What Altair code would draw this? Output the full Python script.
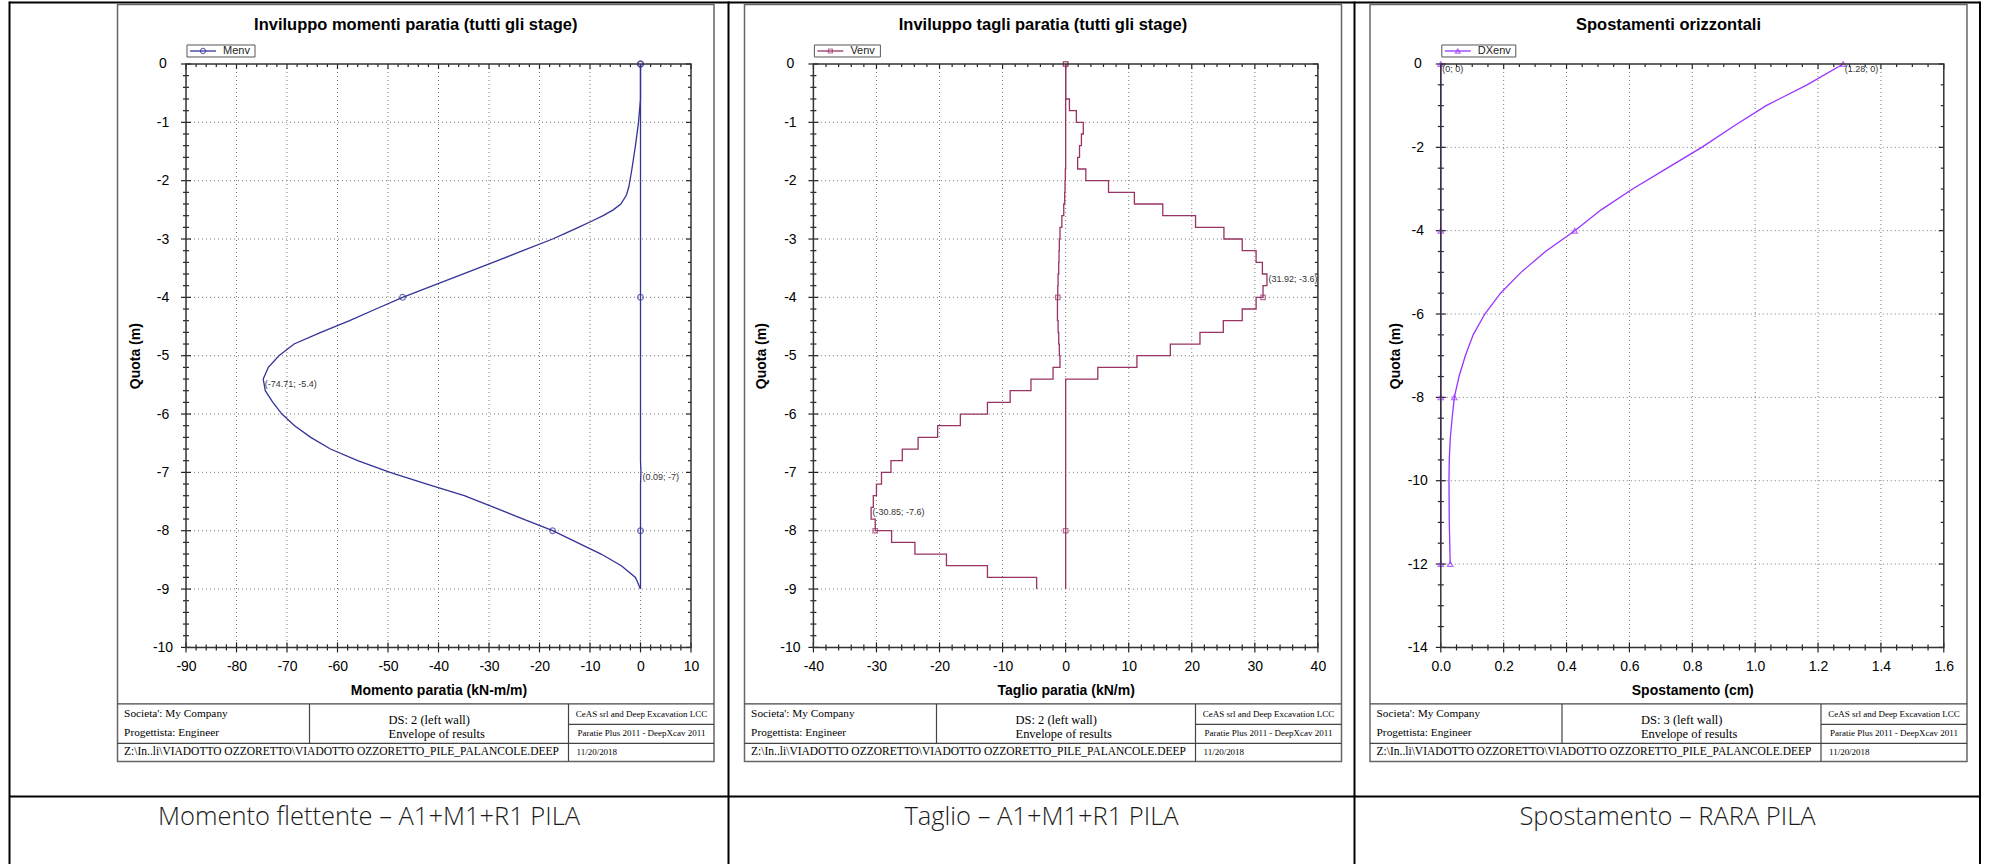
import altair as alt
import pandas as pd

# ---------------------------------------------------------------- values
# Bending-moment envelope (kN-m/m) against elevation (m)
MOM_DEPTH = [0, -0.2, -0.4, -0.6, -0.7, -1.0, -1.4, -1.8, -2.1, -2.25, -2.4, -2.5, -2.6, -2.7, -2.8, -2.9,
             -3.0, -3.2, -3.4, -3.6, -3.8, -4.0, -4.2, -4.4, -4.6, -4.8, -5.0, -5.2, -5.4, -5.6, -5.8,
             -6.0, -6.2, -6.4, -6.6, -6.8, -7.0, -7.2, -7.4, -7.6, -7.8, -8.0, -8.2, -8.4, -8.6, -8.8, -9.0]
MOM_MIN = [0, 0, 0, 0, -0.1, -0.4, -1.0, -1.7, -2.3, -2.8, -3.9, -5.4, -7.4, -9.8, -12.3, -14.8,
           -17.4, -23.3, -29.2, -35.2, -41.1, -47.1, -52.4, -57.6, -63.3, -68.6, -71.6, -73.7, -74.71, -74.3, -72.8,
           -71.0, -68.5, -65.3, -61.4, -56.0, -49.6, -42.3, -34.9, -29.0, -23.2, -17.4, -12.6, -7.8, -3.8, -1.0, 0]
MOM_MAX_DEPTH = [0, -6.8, -7.0, -7.2, -9.0]
MOM_MAX = [0, 0, 0.09, 0, 0]
MOM_MARK_DEPTH = [0, -4, -8]
MOM_MARK_MIN = [0, -47.1, -17.4]
MOM_MARK_MAX = [0, 0, 0]
MOM_NOTE_TEXT = ["(-74.71; -5.4)", "(0.09; -7)"]
MOM_NOTE_X = [-74.71, 0.09]
MOM_NOTE_Y = [-5.4, -7]

# Shear envelope (kN/m), one constant value per 0.2 m element (element tops listed)
SHEAR_TOP = [0, -0.2, -0.4, -0.6, -0.8, -1.0, -1.2, -1.4, -1.6, -1.8, -2.0, -2.2, -2.4, -2.6, -2.8,
             -3.0, -3.2, -3.4, -3.6, -3.8, -4.0, -4.2, -4.4, -4.6, -4.8, -5.0, -5.2, -5.4, -5.6, -5.8,
             -6.0, -6.2, -6.4, -6.6, -6.8, -7.0, -7.2, -7.4, -7.6, -7.8, -8.0, -8.2, -8.4, -8.6, -8.8]
SHEAR_MAX = [0, 0, 0, 0.6, 1.7, 2.8, 2.5, 2.2, 1.9, 3.2,
             6.8, 10.9, 15.4, 20.6, 25.1, 28.0, 30.2, 31.2, 31.92, 31.3,
             30.2, 28.0, 25.0, 21.3, 16.6, 11.3, 5.1,
             0, 0, 0, 0, 0, 0, 0, 0, 0, 0, 0, 0, 0, 0, 0, 0, 0, 0]
SHEAR_MIN = [0, 0, 0, 0, 0, 0, 0, 0, 0,
             -0.05, -0.1, -0.15, -0.3, -0.6, -0.9, -1.0, -1.05, -1.1, -1.2, -1.25,
             -1.3, -1.3, -1.2, -1.1, -1.0, -0.9, -2.0, -5.5, -8.8, -12.4,
             -16.7, -20.3, -23.4, -25.9, -27.7, -29.2, -30.0, -30.5, -30.85, -30.2,
             -27.6, -23.9, -18.9, -12.4, -4.6]
SHEAR_MARK_DEPTH = [0, -4, -8]
SHEAR_NOTE_TEXT = ["(31.92; -3.6)", "(-30.85; -7.6)"]
SHEAR_NOTE_X = [31.92, -30.85]
SHEAR_NOTE_Y = [-3.6, -7.6]

# Horizontal displacement envelope (cm)
DISP_DEPTH = [0, -0.5, -1, -1.5, -2, -2.5, -3, -3.5, -4, -4.5, -5, -5.5, -6, -6.5, -7, -7.5,
              -8, -8.5, -9, -9.5, -10, -11, -12]
DISP_MAX = [1.28, 1.165, 1.035, 0.93, 0.83, 0.72, 0.61, 0.51, 0.426, 0.333, 0.255, 0.19, 0.14, 0.103,
            0.078, 0.058, 0.043, 0.036, 0.030, 0.027, 0.026, 0.027, 0.03]
DISP_MIN_DEPTH = [0, -12]
DISP_MIN = [0, 0]
DISP_MARK_DEPTH = [0, -4, -8, -12]
DISP_MARK_MAX = [1.28, 0.426, 0.043, 0.03]
DISP_MARK_MIN = [0, 0, 0, 0]
DISP_NOTE_TEXT = ["(0; 0)", "(1.28; 0)"]
DISP_NOTE_X = [0, 1.28]
DISP_NOTE_Y = [0, 0]

# Axis tick labels
MOM_X_TICKS = [-90, -80, -70, -60, -50, -40, -30, -20, -10, 0, 10]
SHEAR_X_TICKS = [-40, -30, -20, -10, 0, 10, 20, 30, 40]
DISP_X_TICKS = [0.0, 0.2, 0.4, 0.6, 0.8, 1.0, 1.2, 1.4, 1.6]
Y_TICKS_10 = [-10, -9, -8, -7, -6, -5, -4, -3, -2, -1, 0]
Y_TICKS_14 = [-14, -12, -10, -8, -6, -4, -2, 0]

# ---------------------------------------------------------------- frames
def line_frame(depths, values, name):
    return pd.DataFrame({"d": depths, "v": values, "s": name, "i": list(range(len(depths)))})


def step_frame(tops, values, name, h=0.2):
    d, v = [], []
    for t, val in zip(tops, values):
        d += [t, round(t - h, 2)]
        v += [val, val]
    return line_frame(d, v, name)


def node_value(tops, values, depth, h=0.2):
    n = int(round(-depth / h))
    return values[n - 1] if n > 0 else values[0]


mom_lines = pd.concat([line_frame(MOM_DEPTH, MOM_MIN, "min"), line_frame(MOM_MAX_DEPTH, MOM_MAX, "max")])
mom_marks = pd.DataFrame({"d": MOM_MARK_DEPTH * 2, "v": MOM_MARK_MIN + MOM_MARK_MAX})
mom_notes = pd.DataFrame({"t": MOM_NOTE_TEXT, "v": MOM_NOTE_X, "d": MOM_NOTE_Y})

shear_lines = pd.concat([step_frame(SHEAR_TOP, SHEAR_MAX, "max"), step_frame(SHEAR_TOP, SHEAR_MIN, "min")])
shear_marks = pd.DataFrame({
    "d": SHEAR_MARK_DEPTH * 2,
    "v": [node_value(SHEAR_TOP, SHEAR_MAX, d) for d in SHEAR_MARK_DEPTH]
         + [node_value(SHEAR_TOP, SHEAR_MIN, d) for d in SHEAR_MARK_DEPTH],
})
shear_notes = pd.DataFrame({"t": SHEAR_NOTE_TEXT, "v": SHEAR_NOTE_X, "d": SHEAR_NOTE_Y})

disp_lines = pd.concat([line_frame(DISP_DEPTH, DISP_MAX, "max"), line_frame(DISP_MIN_DEPTH, DISP_MIN, "min")])
disp_marks = pd.DataFrame({"d": DISP_MARK_DEPTH * 2, "v": DISP_MARK_MAX + DISP_MARK_MIN})
disp_notes = pd.DataFrame({"t": DISP_NOTE_TEXT, "v": DISP_NOTE_X, "d": DISP_NOTE_Y})

# ---------------------------------------------------------------- drawing helpers
SANS = "Liberation Sans"
SERIF = "Liberation Serif"
TOP = 63.6          # page y of the plot areas' top edge
H = 583.4           # plot area height
ONE = pd.DataFrame({"k": [0]})


def rule(x, y, x2=None, y2=None, color="#000", width=1.0):
    enc = {"x": alt.value(x), "y": alt.value(y)}
    if x2 is not None:
        enc["x2"] = alt.value(x2)
    if y2 is not None:
        enc["y2"] = alt.value(y2)
    return alt.Chart(ONE).mark_rule(color=color, strokeWidth=width).encode(**enc)


def rect(x, x2, y, y2, stroke=None, width=1.0, fill="transparent", opacity=1.0):
    kw = {"fill": fill, "opacity": opacity}
    if stroke is not None:
        kw.update(stroke=stroke, strokeWidth=width)
    return alt.Chart(ONE).mark_rect(**kw).encode(
        x=alt.value(x), x2=alt.value(x2), y=alt.value(y), y2=alt.value(y2))


def label(s, x, y, size, font=SANS, weight="normal", align="left", color="#000", baseline="middle"):
    return alt.Chart(ONE).mark_text(
        font=font, fontSize=size, fontWeight=weight, align=align, baseline=baseline, color=color
    ).encode(x=alt.value(x), y=alt.value(y), text=alt.value(s))


def minors(majors, n):
    return [round(a + (b - a) * k / n, 4) for a, b in zip(majors, majors[1:]) for k in range(1, n)]


def panel(cfg):
    ox, w = cfg["ox"], cfg["w"]
    rx = lambda px: px - ox
    ry = lambda py: py - TOP

    xs = alt.Scale(domain=cfg["xdom"], nice=False, zero=False)
    ys = alt.Scale(domain=cfg["ydom"], nice=False, zero=False)
    xaxis = alt.Axis(
        orient="bottom", values=cfg["xticks"], domain=False, ticks=False, tickSize=0, grid=False,
        labelFont=SANS, labelFontSize=14, labelColor="#000", labelPadding=19.5,
        labelBaseline="middle", labelAlign="center", labelFlush=False, labelOverlap=False,
        labelExpr=cfg["xfmt"], title=cfg["xtitle"], titleFont=SANS, titleFontSize=14,
        titleFontWeight="bold", titleColor="#000", titleX=w / 2, titleY=43.5,
        titleAlign="center", titleBaseline="middle",
    )
    yaxis = alt.Axis(
        orient="left", values=cfg["yticks"], domain=False, ticks=False, tickSize=0, grid=False,
        labelFont=SANS, labelFontSize=14, labelColor="#000", labelPadding=23.5,
        labelBaseline="middle", labelAlign="center", labelFlush=False, labelOverlap=False,
        labelExpr="'' + datum.value", title="Quota (m)", titleFont=SANS, titleFontSize=14,
        titleFontWeight="bold", titleColor="#000", titleAngle=270, titleX=cfg["ytx"], titleY=H / 2,
        titleAlign="center", titleBaseline="middle",
    )
    # every layer carries the same axis definition so that they merge into one
    X = lambda f: alt.X(f, type="quantitative", scale=xs, axis=xaxis)
    Y = lambda f: alt.Y(f, type="quantitative", scale=ys, axis=yaxis)

    layers = []
    if cfg.get("anchor"):
        # fixes the page's top-left corner
        layers.append(rect(rx(0), rx(40), ry(0), ry(40), opacity=0))

    # outer table
    lx, rxp = cfg["cell"]
    if cfg.get("leftborder"):
        layers.append(rule(rx(lx), ry(1), y2=ry(864), width=2))
    layers += [
        rule(rx(rxp), ry(1), y2=ry(864), width=2),
        rule(rx(lx), ry(2), x2=rx(rxp), width=2),
        rule(rx(lx), ry(796), x2=rx(rxp), width=2),
        label(cfg["caption"], rx((lx + rxp) / 2), ry(816.7), 25.5, font="Open Sans", weight=300,
              align="center", color="#1a1a1a"),
    ]

    # report frame and footer block
    b0, b1 = cfg["box"]
    fc = "#444"
    layers += [
        rect(rx(b0), rx(b1), ry(4), ry(761), stroke="#666", width=1.5),
        rule(rx(b0), ry(703.5), x2=rx(b1), color=fc, width=1.2),
        rule(rx(b0), ry(743), x2=rx(b1), color=fc, width=1.2),
        rule(rx(b0 + 192), ry(703.5), y2=ry(743), color=fc, width=1.2),
        rule(rx(b0 + 451), ry(703.5), y2=ry(761), color=fc, width=1.2),
        rule(rx(b0 + 451), ry(724), x2=rx(b1), color=fc, width=1.2),
        label("Societa': My Company", rx(b0 + 6.6), ry(713.5), 11.3, font=SERIF),
        label("Progettista: Engineer", rx(b0 + 6.6), ry(732.5), 11.3, font=SERIF),
        label(cfg["ds"], rx(b0 + 271), ry(720), 12.5, font=SERIF),
        label("Envelope of results", rx(b0 + 271), ry(733.5), 12.5, font=SERIF),
        label("CeAS srl and Deep Excavation LCC", rx(b0 + 524), ry(713.5), 9, font=SERIF, align="center"),
        label("Paratie Plus 2011 - DeepXcav 2011", rx(b0 + 524), ry(732.5), 9, font=SERIF, align="center"),
        label("Z:\\In..li\\VIADOTTO  OZZORETTO\\VIADOTTO  OZZORETTO_PILE_PALANCOLE.DEEP",
              rx(b0 + 6.6), ry(751.7), 11.5, font=SERIF),
        label("11/20/2018", rx(b0 + 459), ry(751.7), 9, font=SERIF),
        label(cfg["title"], rx((b0 + b1) / 2), ry(25), 16.5, weight="bold", align="center"),
    ]

    # dotted grid
    gx = pd.DataFrame({"v": cfg["xticks"]})
    gy = pd.DataFrame({"v": cfg["yticks"]})
    grid = dict(color="#777", strokeDash=[1, 3], strokeWidth=1)
    layers += [
        alt.Chart(gx.iloc[1:-1]).mark_rule(**grid).encode(x=X("v")),
        alt.Chart(gy.iloc[1:-1]).mark_rule(**grid).encode(y=Y("v")),
    ]

    # major / minor tick marks on all four sides
    tick = dict(color="#222", strokeWidth=1.2)
    xmin = pd.DataFrame({"v": minors(cfg["xticks"], cfg["xsub"])})
    ymin = pd.DataFrame({"v": minors(cfg["yticks"], cfg["ysub"])})
    for df, a in ((gx, 5), (xmin, 3)):
        layers += [
            alt.Chart(df).mark_rule(**tick).encode(x=X("v"), y=alt.value(H - a), y2=alt.value(H + a)),
            alt.Chart(df).mark_rule(**tick).encode(x=X("v"), y=alt.value(0), y2=alt.value(a)),
        ]
    for df, a in ((gy, 5), (ymin, 3)):
        layers += [
            alt.Chart(df).mark_rule(**tick).encode(y=Y("v"), x=alt.value(-a), x2=alt.value(a)),
            alt.Chart(df).mark_rule(**tick).encode(y=Y("v"), x=alt.value(w - a), x2=alt.value(w)),
        ]

    # envelope curves, markers and extreme-value notes
    col = cfg["color"]
    layers += [
        alt.Chart(cfg["lines"]).mark_line(color=col, strokeWidth=1.3).encode(
            x=X("v"), y=Y("d"), detail="s:N", order="i:Q"),
        alt.Chart(cfg["marks"]).mark_point(shape=cfg["shape"], filled=False, size=cfg["msize"],
                                           color=col, strokeWidth=1.2).encode(x=X("v"), y=Y("d")),
        alt.Chart(cfg["notes"]).mark_text(font=SANS, fontSize=9, color="#333", align="left",
                                          baseline="top", dx=1.5, dy=1).encode(
            x=X("v"), y=Y("d"), text="t:N"),
    ]

    # plot frame
    layers.append(rect(0, w, 0, H, stroke="#333", width=1.5))

    # legend
    lw = cfg["legw"]
    layers += [
        rect(1, 1 + lw, -19, -7, stroke="#555", width=1, fill="#ffffff"),
        rule(4, -13, x2=30, color=col, width=1.3),
        alt.Chart(ONE).mark_point(shape=cfg["shape"], filled=False, size=cfg["msize"] * 0.8,
                                  color=col, strokeWidth=1.1).encode(x=alt.value(17), y=alt.value(-13)),
        label(cfg["legend"], 37, -13, 11, color="#222"),
    ]

    return alt.layer(*layers).properties(width=w, height=H)


P1 = dict(
    ox=185.5, w=505, xdom=[-90, 10], ydom=[-10, 0], xticks=MOM_X_TICKS, yticks=Y_TICKS_10,
    xsub=5, ysub=5, xfmt="'' + datum.value", xtitle="Momento paratia (kN-m/m)", ytx=-51,
    lines=mom_lines, marks=mom_marks, notes=mom_notes, color="#333399", shape="circle", msize=34,
    legend="Menv", legw=68, title="Inviluppo momenti paratia (tutti gli stage)",
    box=(117, 713.5), ds="DS: 2 (left wall)", cell=(9, 728), leftborder=True, anchor=True,
    caption="Momento flettente – A1+M1+R1 PILA",
)
P2 = dict(
    ox=812.9, w=504.5, xdom=[-40, 40], ydom=[-10, 0], xticks=SHEAR_X_TICKS, yticks=Y_TICKS_10,
    xsub=5, ysub=5, xfmt="'' + datum.value", xtitle="Taglio paratia (kN/m)", ytx=-52,
    lines=shear_lines, marks=shear_marks, notes=shear_notes, color="#993366", shape="square", msize=20,
    legend="Venv", legw=66, title="Inviluppo tagli paratia (tutti gli stage)",
    box=(744, 1341), ds="DS: 2 (left wall)", cell=(728, 1354),
    caption="Taglio – A1+M1+R1 PILA",
)
P3 = dict(
    ox=1439.8, w=503, xdom=[0, 1.6], ydom=[-14, 0], xticks=DISP_X_TICKS, yticks=Y_TICKS_14,
    xsub=4, ysub=4, xfmt="format(datum.value, '.1f')", xtitle="Spostamento (cm)", ytx=-45.3,
    lines=disp_lines, marks=disp_marks, notes=disp_notes, color="#9933ff", shape="triangle-up", msize=30,
    legend="DXenv", legw=74, title="Spostamenti orizzontali",
    box=(1369, 1966), ds="DS: 3 (left wall)", cell=(1354, 1979),
    caption="Spostamento – RARA PILA",
)

chart = (
    alt.hconcat(panel(P1), panel(P2), panel(P3))
    .properties(bounds="flush", spacing=122.4, padding=0)
    .configure_view(strokeWidth=0)
)

chart.save("out.html", embed_options={"renderer": "svg", "actions": False})
